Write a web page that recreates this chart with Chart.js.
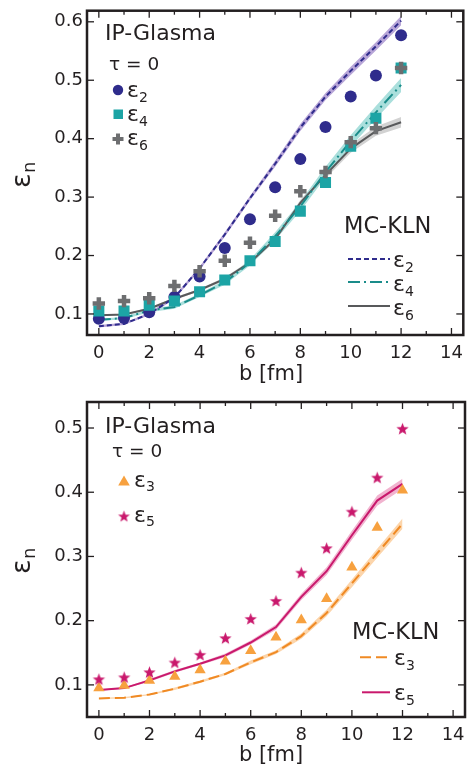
<!DOCTYPE html>
<html>
<head>
<meta charset="utf-8">
<script src="https://cdn.jsdelivr.net/npm/chart.js@4.4.1/dist/chart.umd.min.js"></script>
<style>
  html, body { margin: 0; padding: 0; background: #fff; }
  .panel { position: absolute; left: 0; width: 474px; }
  #topPanel { top: 0; height: 390px; }
  #bottomPanel { top: 390px; height: 380px; }
</style>
</head>
<body>
<div class="panel" id="topPanel"><canvas id="topChart"></canvas></div>
<div class="panel" id="bottomPanel"><canvas id="bottomChart"></canvas></div>
<script>
// impact parameter b [fm]
const bValues = [0, 1, 2, 3, 4, 5, 6, 7, 8, 9, 10, 11, 12];
const bTicks = [0, 2, 4, 6, 8, 10, 12, 14];
const bMinorTicks = [1, 3, 5, 7, 9, 11, 13];
const topYTicks = [0.1, 0.2, 0.3, 0.4, 0.5, 0.6];
const bottomYTicks = [0.1, 0.2, 0.3, 0.4, 0.5];

// top panel: IP-Glasma points
const ipEps2 = [0.092, 0.093, 0.103, 0.129, 0.164, 0.213, 0.262, 0.317, 0.365, 0.420, 0.472, 0.508, 0.577];
const ipEps4 = [0.105, 0.105, 0.115, 0.122, 0.138, 0.158, 0.191, 0.224, 0.276, 0.325, 0.387, 0.435, 0.521];
const ipEps6 = [0.118, 0.122, 0.127, 0.148, 0.173, 0.191, 0.222, 0.268, 0.310, 0.343, 0.394, 0.418, 0.521];
// top panel: MC-KLN curves and band half-widths
const klnEps2 = [0.079, 0.083, 0.100, 0.128, 0.178, 0.236, 0.298, 0.357, 0.419, 0.472, 0.516, 0.558, 0.602];
const klnEps2Err = [0.002, 0.002, 0.002, 0.003, 0.003, 0.004, 0.004, 0.005, 0.006, 0.006, 0.007, 0.007, 0.008];
const klnEps4 = [0.090, 0.093, 0.106, 0.112, 0.132, 0.154, 0.188, 0.233, 0.284, 0.343, 0.396, 0.445, 0.492];
const klnEps4Err = [0.002, 0.002, 0.003, 0.003, 0.003, 0.004, 0.005, 0.007, 0.008, 0.009, 0.010, 0.011, 0.012];
const klnEps6 = [0.098, 0.099, 0.109, 0.126, 0.141, 0.160, 0.188, 0.228, 0.290, 0.338, 0.383, 0.413, 0.428];
const klnEps6Err = [0.001, 0.001, 0.002, 0.002, 0.002, 0.003, 0.003, 0.004, 0.005, 0.006, 0.007, 0.008, 0.009];

// bottom panel: IP-Glasma points
const ipEps3 = [0.095, 0.099, 0.107, 0.113, 0.123, 0.137, 0.153, 0.174, 0.201, 0.234, 0.283, 0.345, 0.403];
const ipEps5 = [0.108, 0.111, 0.119, 0.134, 0.146, 0.172, 0.202, 0.230, 0.274, 0.312, 0.369, 0.422, 0.498];
// bottom panel: MC-KLN curves and band half-widths
const klnEps3 = [0.079, 0.080, 0.085, 0.094, 0.105, 0.117, 0.135, 0.151, 0.176, 0.212, 0.258, 0.305, 0.351];
const klnEps3Err = [0.001, 0.001, 0.001, 0.002, 0.002, 0.002, 0.003, 0.003, 0.004, 0.005, 0.006, 0.007, 0.008];
const klnEps5 = [0.092, 0.095, 0.107, 0.121, 0.133, 0.146, 0.166, 0.190, 0.237, 0.277, 0.333, 0.387, 0.413];
const klnEps5Err = [0.001, 0.001, 0.002, 0.002, 0.002, 0.003, 0.003, 0.004, 0.005, 0.006, 0.007, 0.008, 0.008];

const FONT = '"DejaVu Sans", "Liberation Sans", sans-serif';
const INK = '#231f20';
const C = {
    navy: '#2f2c8c', purpleBand: '#b8a6d8',
    teal: '#1ca4a5', tealLine: '#1a8c8a', tealBand: '#aadfdc',
    gray: '#6d6e70', grayLine: '#58595b', grayBand: '#d2d2d2',
    orange: '#f7a13f', orangeLine: '#f08a24', orangeBand: '#fcd5ab',
    magenta: '#c9186c', magentaBand: '#f1b3cf'
};

function pts(arr) {
    return bValues.map((b, i) => ({ x: b, y: arr[i] }));
}

function bandPair(mid, err, color) {
    return [
        { data: pts(mid.map((v, i) => v + err[i])), borderWidth: 0, pointRadius: 0, fill: false, order: 5 },
        { data: pts(mid.map((v, i) => v - err[i])), borderWidth: 0, pointRadius: 0, fill: '-1', backgroundColor: color, order: 5 }
    ];
}

function curve(arr, color, dash) {
    return { data: pts(arr), borderColor: color, borderWidth: 2, borderDash: dash, pointRadius: 0, fill: false, tension: 0, order: 3 };
}

function markers(arr, style, radius, color, order, stroke) {
    return {
        data: pts(arr), showLine: false, pointStyle: style, pointRadius: radius,
        pointBackgroundColor: color, pointBorderColor: color,
        pointBorderWidth: stroke || 0, order
    };
}

function starImage(r, color) {
    const c = document.createElement('canvas');
    const s = Math.ceil(r * 2 + 2);
    c.width = c.height = s;
    const g = c.getContext('2d');
    g.fillStyle = color;
    g.beginPath();
    for (let i = 0; i < 10; i++) {
        const rr = i % 2 ? r * 0.42 : r;
        const ang = -Math.PI / 2 + i * Math.PI / 5;
        g.lineTo(s / 2 + rr * Math.cos(ang), s / 2 + rr * Math.sin(ang));
    }
    g.closePath();
    g.fill();
    return c;
}

function line(ctx, x1, y1, x2, y2) {
    ctx.beginPath();
    ctx.moveTo(x1, y1);
    ctx.lineTo(x2, y2);
    ctx.stroke();
}

function text(ctx, s, x, y, size, align) {
    ctx.font = `${size}px ${FONT}`;
    ctx.textAlign = align || 'left';
    ctx.textBaseline = 'alphabetic';
    ctx.fillStyle = INK;
    ctx.fillText(s, x, y);
}

function eps(ctx, sub, x, y, size, subSize) {
    text(ctx, 'ε', x, y, size || 22);
    const w = ctx.measureText('ε').width;
    text(ctx, sub, x + w, y + 4.5, subSize || 14);
}

function legendLine(ctx, x1, x2, y, color, dash) {
    ctx.save();
    ctx.strokeStyle = color;
    ctx.lineWidth = 2;
    ctx.setLineDash(dash);
    line(ctx, x1, y, x2, y);
    ctx.restore();
}

function yTitle(ctx, x, y) {
    ctx.save();
    ctx.translate(x, y);
    ctx.rotate(-Math.PI / 2);
    text(ctx, 'ε', -1, 0, 27);
    text(ctx, 'n', 14, 5, 18);
    ctx.restore();
}

function framePlugin(yTicks, notes) {
    return {
        id: 'frame',
        afterDraw(chart) {
            const { ctx, chartArea: a, scales: { x, y } } = chart;
            ctx.save();
            ctx.strokeStyle = INK;
            ctx.lineWidth = 1.3;
            bTicks.concat(bMinorTicks).forEach(b => {
                const px = x.getPixelForValue(b);
                const len = bTicks.includes(b) ? 7 : 4;
                line(ctx, px, a.bottom, px, a.bottom - len);
                line(ctx, px, a.top, px, a.top + len);
            });
            yTicks.forEach(v => {
                const py = y.getPixelForValue(v);
                line(ctx, a.left, py, a.left + 7, py);
                line(ctx, a.right, py, a.right - 7, py);
            });
            ctx.lineWidth = 2.5;
            ctx.strokeRect(a.left, a.top, a.right - a.left, a.bottom - a.top);
            ctx.restore();
            ctx.save();
            notes(ctx, chart);
            ctx.restore();
        }
    };
}

function options(yMin, yMax, yTicks, xHeight, padTop) {
    const tickFont = { family: FONT, size: 18 };
    return {
        responsive: true,
        maintainAspectRatio: false,
        animation: false,
        devicePixelRatio: 1,
        layout: { padding: { top: padTop, right: 9, left: 0, bottom: 0 } },
        plugins: { legend: { display: false }, tooltip: { enabled: false } },
        scales: {
            x: {
                type: 'linear', min: -0.47, max: 14.47,
                grid: { display: false, drawTicks: false }, border: { display: false },
                ticks: { font: tickFont, color: INK, padding: 8, autoSkip: false, maxRotation: 0, callback: v => String(v) },
                afterBuildTicks: s => { s.ticks = bTicks.map(v => ({ value: v })); },
                afterFit: s => { s.height = xHeight; s.paddingLeft = 0; s.paddingRight = 0; }
            },
            y: {
                type: 'linear', min: yMin, max: yMax,
                grid: { display: false, drawTicks: false }, border: { display: false },
                ticks: { font: tickFont, color: INK, padding: 4, callback: v => v.toFixed(1) },
                afterBuildTicks: s => { s.ticks = yTicks.map(v => ({ value: v })); },
                afterFit: s => { s.width = 87; s.paddingTop = 0; s.paddingBottom = 0; }
            }
        }
    };
}

const starStyle = starImage(6.5, C.magenta);
const starLegend = starImage(6.2, C.magenta);

new Chart(document.getElementById('topChart'), {
    type: 'line',
    data: {
        datasets: [
            ...bandPair(klnEps2, klnEps2Err, C.purpleBand),
            ...bandPair(klnEps4, klnEps4Err, C.tealBand),
            ...bandPair(klnEps6, klnEps6Err, C.grayBand),
            curve(klnEps2, C.navy, [5, 3]),
            curve(klnEps4, C.tealLine, [12, 4, 2, 4]),
            curve(klnEps6, C.grayLine, []),
            markers(ipEps2, 'circle', 6, C.navy, 2),
            markers(ipEps4, 'rect', 7.8, C.teal, 1),
            markers(ipEps6, 'cross', 6.2, C.gray, 0, 4.5)
        ]
    },
    options: options(0.064, 0.619, topYTicks, 55, 6),
    plugins: [framePlugin(topYTicks, (ctx) => {
        text(ctx, 'IP-Glasma', 105, 39.5, 22);
        text(ctx, 'τ = 0', 109, 70, 18.5);
        // IP-Glasma symbols
        ctx.fillStyle = C.navy;
        ctx.beginPath(); ctx.arc(118, 90, 5.2, 0, Math.PI * 2); ctx.fill();
        eps(ctx, '2', 127, 97);
        ctx.fillStyle = C.teal;
        ctx.fillRect(113.5, 109.5, 9.5, 9.5);
        eps(ctx, '4', 127, 121);
        ctx.strokeStyle = C.gray; ctx.lineWidth = 4;
        line(ctx, 112.5, 139, 123.5, 139);
        line(ctx, 118, 133.5, 118, 144.5);
        eps(ctx, '6', 127, 145);
        // MC-KLN curves
        text(ctx, 'MC-KLN', 344, 232.5, 22.5);
        legendLine(ctx, 348, 390, 259, C.navy, [5, 3]);
        eps(ctx, '2', 393, 267);
        legendLine(ctx, 348, 390, 282, C.tealLine, [12, 4, 2, 4]);
        eps(ctx, '4', 393, 291);
        legendLine(ctx, 348, 390, 306, C.grayLine, []);
        eps(ctx, '6', 393, 315);
        text(ctx, 'b [fm]', 271, 380, 21, 'center');
        yTitle(ctx, 30, 187);
    })]
});

new Chart(document.getElementById('bottomChart'), {
    type: 'line',
    data: {
        datasets: [
            ...bandPair(klnEps3, klnEps3Err, C.orangeBand),
            ...bandPair(klnEps5, klnEps5Err, C.magentaBand),
            curve(klnEps3, C.orangeLine, [11, 5]),
            curve(klnEps5, C.magenta, []),
            markers(ipEps3, 'triangle', 6.5, C.orange, 1),
            markers(ipEps5, starStyle, 6.5, C.magenta, 0)
        ]
    },
    options: options(0.05, 0.5405, bottomYTicks, 53, 12),
    plugins: [framePlugin(bottomYTicks, (ctx) => {
        text(ctx, 'IP-Glasma', 105, 42.5, 22);
        text(ctx, 'τ = 0', 112, 67.3, 18.5);
        ctx.fillStyle = C.orange;
        ctx.beginPath();
        ctx.moveTo(124, 85.5); ctx.lineTo(129.8, 95.5); ctx.lineTo(118.2, 95.5);
        ctx.closePath(); ctx.fill();
        eps(ctx, '3', 134, 96.7);
        ctx.drawImage(starLegend, 124 - starLegend.width / 2, 126.7 - starLegend.height / 2);
        eps(ctx, '5', 134, 131.7);
        text(ctx, 'MC-KLN', 352, 249.3, 22.5);
        legendLine(ctx, 360, 390, 267.3, C.orangeLine, [11, 5]);
        eps(ctx, '3', 394, 275);
        legendLine(ctx, 362, 390, 302.3, C.magenta, []);
        eps(ctx, '5', 394, 310);
        text(ctx, 'b [fm]', 271, 370.7, 21, 'center');
        yTitle(ctx, 30, 183);
    })]
});
</script>
</body>
</html>
